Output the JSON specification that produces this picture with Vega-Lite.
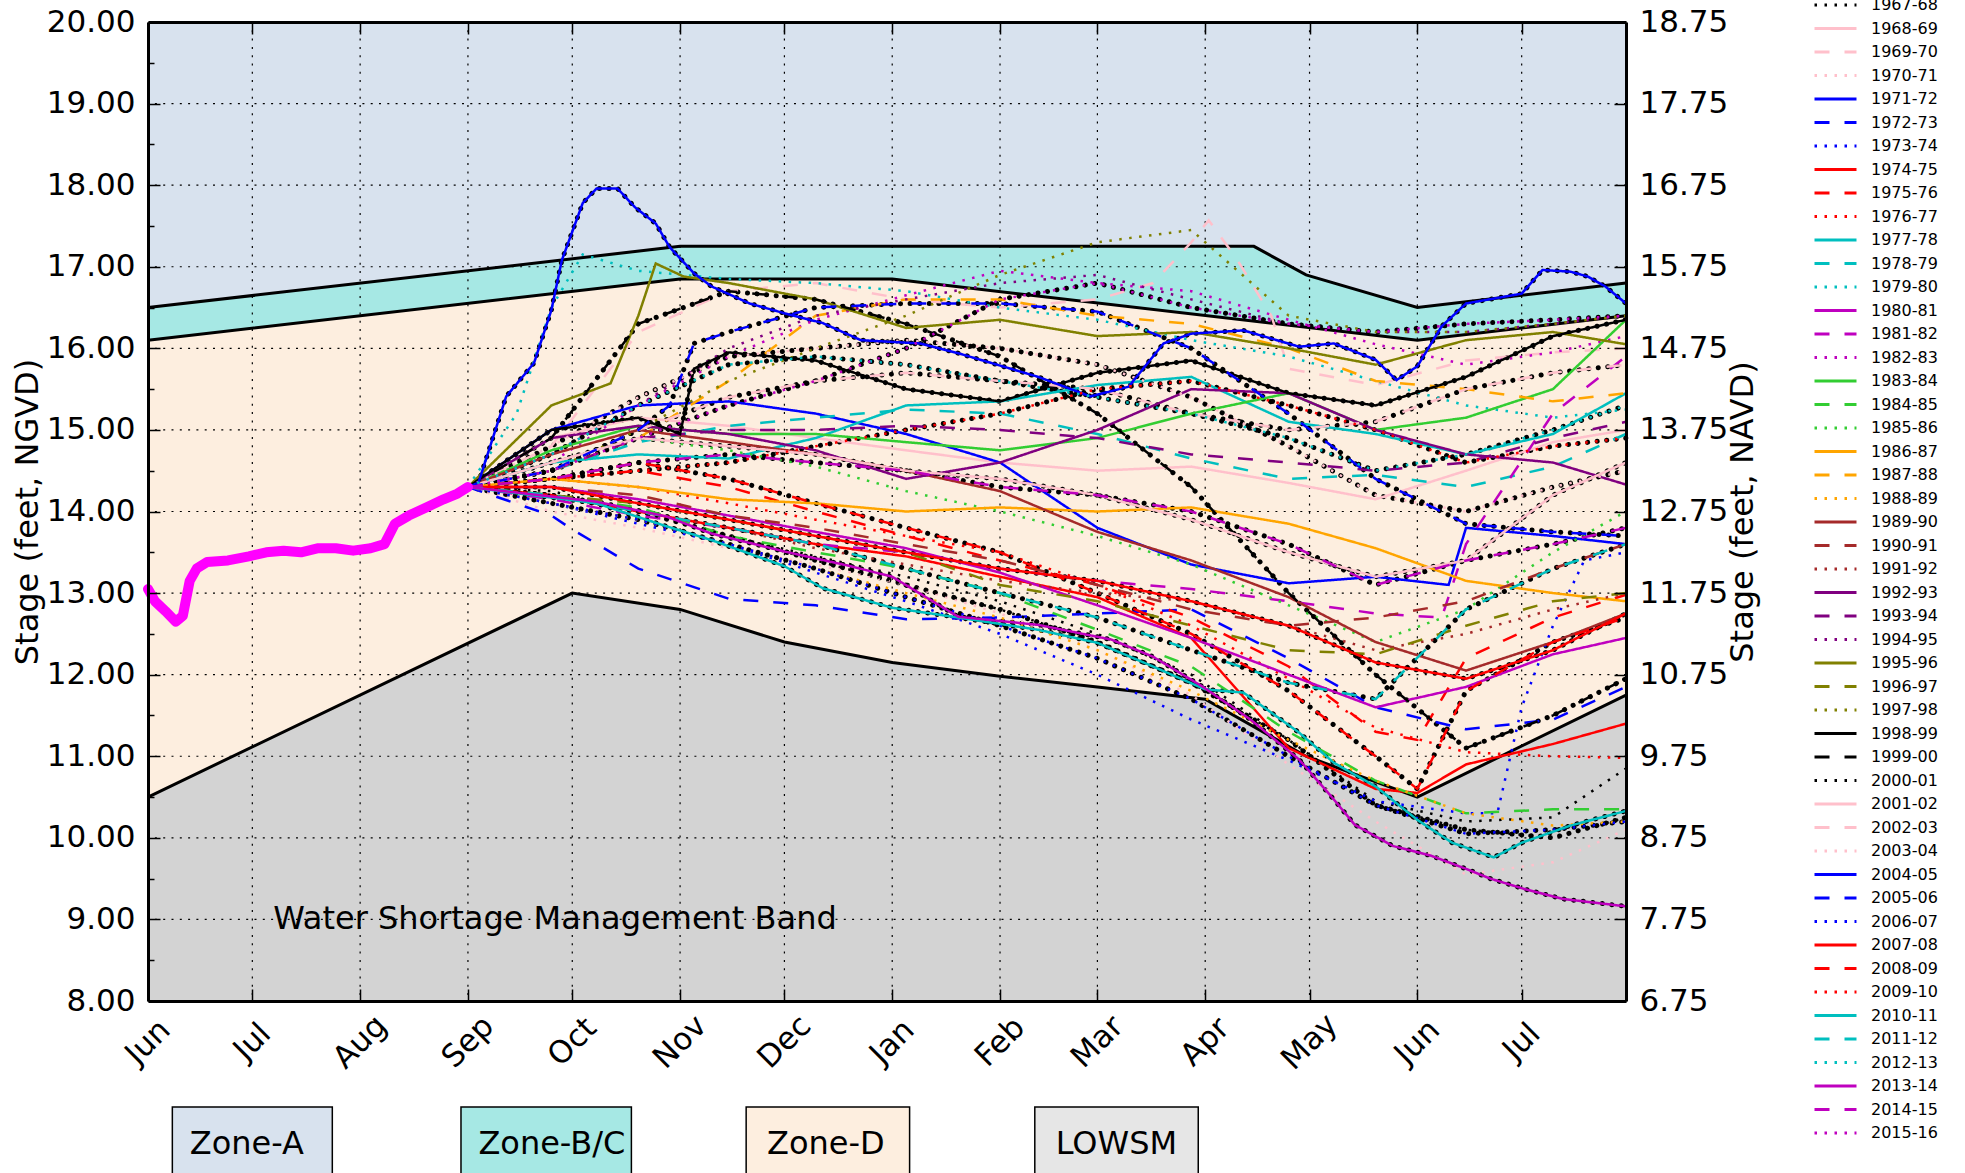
{
"$schema": "https://vega.github.io/schema/vega-lite/v6.json",
"width": 1478, "height": 979,
"autosize": {"type": "none"},
"padding": {"left": 148, "top": 22, "right": 339, "bottom": 172},
"background": "white",
"config": {
  "font": "DejaVu Sans",
  "view": {"fill": "#d8e2ee", "stroke": null},
  "axis": {"labelFont": "DejaVu Sans", "titleFont": "DejaVu Sans", "labelColor": "black", "titleColor": "black", "labelFontSize": 31, "titleFontSize": 32, "titleFontWeight": "normal", "domainColor": "black", "domainWidth": 3, "tickColor": "black", "tickWidth": 1.5, "grid": false}
},
"resolve": {"axis": {"x": "independent", "y": "independent"}},
"datasets": {
  "curves": [
    {"curve":"upper","date":"2016-06-01","stage":16.5},{"curve":"upper","date":"2016-11-01","stage":17.25},{"curve":"upper","date":"2017-04-15","stage":17.25},{"curve":"upper","date":"2017-04-30","stage":16.9},{"curve":"upper","date":"2017-06-01","stage":16.5},{"curve":"upper","date":"2017-07-31","stage":16.8},
    {"curve":"lower","date":"2016-06-01","stage":16.1},{"curve":"lower","date":"2016-11-01","stage":16.85},{"curve":"lower","date":"2017-01-01","stage":16.85},{"curve":"lower","date":"2017-06-01","stage":16.1},{"curve":"lower","date":"2017-07-31","stage":16.4},
    {"curve":"lowsm","date":"2016-06-01","stage":10.5},{"curve":"lowsm","date":"2016-10-01","stage":13.0},{"curve":"lowsm","date":"2016-11-01","stage":12.8},{"curve":"lowsm","date":"2016-12-01","stage":12.4},{"curve":"lowsm","date":"2017-01-01","stage":12.15},{"curve":"lowsm","date":"2017-02-01","stage":11.98},{"curve":"lowsm","date":"2017-03-01","stage":11.85},{"curve":"lowsm","date":"2017-04-01","stage":11.7},{"curve":"lowsm","date":"2017-04-30","stage":11.0},{"curve":"lowsm","date":"2017-06-01","stage":10.5},{"curve":"lowsm","date":"2017-07-31","stage":11.75}
  ],
  "current": [
    {"date":"2016-06-01","stage":13.05},{"date":"2016-06-03","stage":12.9},{"date":"2016-06-06","stage":12.78},{"date":"2016-06-09","stage":12.65},{"date":"2016-06-11","stage":12.72},{"date":"2016-06-13","stage":13.15},{"date":"2016-06-15","stage":13.3},{"date":"2016-06-18","stage":13.38},{"date":"2016-06-24","stage":13.4},{"date":"2016-06-30","stage":13.45},{"date":"2016-07-05","stage":13.5},{"date":"2016-07-10","stage":13.52},{"date":"2016-07-15","stage":13.5},{"date":"2016-07-20","stage":13.55},{"date":"2016-07-25","stage":13.55},{"date":"2016-07-30","stage":13.52},{"date":"2016-08-04","stage":13.55},{"date":"2016-08-08","stage":13.6},{"date":"2016-08-11","stage":13.85},{"date":"2016-08-15","stage":13.95},{"date":"2016-08-20","stage":14.05},{"date":"2016-08-25","stage":14.15},{"date":"2016-08-29","stage":14.22},{"date":"2016-09-01","stage":14.3}
  ],
  "boxes": [
    {"zone":"Zone-A","start":"2016-06-08","end":"2016-07-24","top":6.7,"bottom":5.8,"labelDate":"2016-06-13","labelStage":6.25},
    {"zone":"Zone-B/C","start":"2016-08-30","end":"2016-10-18","top":6.7,"bottom":5.8,"labelDate":"2016-09-04","labelStage":6.25},
    {"zone":"Zone-D","start":"2016-11-20","end":"2017-01-06","top":6.7,"bottom":5.8,"labelDate":"2016-11-26","labelStage":6.25},
    {"zone":"LOWSM","start":"2017-02-11","end":"2017-03-30","top":6.7,"bottom":5.8,"labelDate":"2017-02-17","labelStage":6.25}
  ],
  "series": [
    {"year":"1967-68","date":"2016-09-01","stage":14.3},{"year":"1967-68","date":"2016-09-25","stage":14.25},{"year":"1967-68","date":"2016-10-20","stage":14.0},{"year":"1967-68","date":"2016-11-15","stage":13.7},{"year":"1967-68","date":"2016-12-10","stage":13.45},{"year":"1967-68","date":"2017-01-05","stage":13.2},{"year":"1967-68","date":"2017-02-01","stage":12.9},{"year":"1967-68","date":"2017-03-01","stage":12.5},{"year":"1967-68","date":"2017-03-28","stage":12.0},{"year":"1967-68","date":"2017-04-25","stage":11.2},{"year":"1967-68","date":"2017-05-20","stage":10.45},{"year":"1967-68","date":"2017-06-15","stage":10.2},{"year":"1967-68","date":"2017-07-10","stage":10.25},{"year":"1967-68","date":"2017-07-31","stage":10.85},
    {"year":"1968-69","date":"2016-09-01","stage":14.3},{"year":"1968-69","date":"2016-09-25","stage":14.9},{"year":"1968-69","date":"2016-10-20","stage":15.15},{"year":"1968-69","date":"2016-11-15","stage":15.05},{"year":"1968-69","date":"2016-12-10","stage":14.9},{"year":"1968-69","date":"2017-01-05","stage":14.75},{"year":"1968-69","date":"2017-02-01","stage":14.6},{"year":"1968-69","date":"2017-03-01","stage":14.5},{"year":"1968-69","date":"2017-03-28","stage":14.55},{"year":"1968-69","date":"2017-04-25","stage":14.35},{"year":"1968-69","date":"2017-05-20","stage":14.15},{"year":"1968-69","date":"2017-06-15","stage":14.5},{"year":"1968-69","date":"2017-07-10","stage":14.85},{"year":"1968-69","date":"2017-07-31","stage":15.0},
    {"year":"1969-70","date":"2016-09-01","stage":14.3},{"year":"1969-70","date":"2016-09-25","stage":14.8},{"year":"1969-70","date":"2016-10-20","stage":16.2},{"year":"1969-70","date":"2016-11-15","stage":16.7},{"year":"1969-70","date":"2016-12-10","stage":16.8},{"year":"1969-70","date":"2017-01-05","stage":16.6},{"year":"1969-70","date":"2017-02-01","stage":16.5},{"year":"1969-70","date":"2017-03-01","stage":16.6},{"year":"1969-70","date":"2017-03-17","stage":16.8},{"year":"1969-70","date":"2017-03-28","stage":17.3},{"year":"1969-70","date":"2017-04-02","stage":17.57},{"year":"1969-70","date":"2017-04-10","stage":17.1},{"year":"1969-70","date":"2017-04-20","stage":16.4},{"year":"1969-70","date":"2017-04-25","stage":15.75},{"year":"1969-70","date":"2017-05-20","stage":15.55},{"year":"1969-70","date":"2017-06-15","stage":15.85},{"year":"1969-70","date":"2017-07-10","stage":15.95},{"year":"1969-70","date":"2017-07-31","stage":16.0},
    {"year":"1970-71","date":"2016-09-01","stage":14.3},{"year":"1970-71","date":"2016-09-25","stage":14.0},{"year":"1970-71","date":"2016-10-20","stage":13.8},{"year":"1970-71","date":"2016-11-15","stage":13.55},{"year":"1970-71","date":"2016-12-10","stage":13.35},{"year":"1970-71","date":"2017-01-05","stage":13.1},{"year":"1970-71","date":"2017-02-01","stage":12.75},{"year":"1970-71","date":"2017-03-01","stage":12.3},{"year":"1970-71","date":"2017-03-28","stage":11.75},{"year":"1970-71","date":"2017-04-25","stage":10.9},{"year":"1970-71","date":"2017-05-20","stage":10.2},{"year":"1970-71","date":"2017-06-15","stage":9.55},{"year":"1970-71","date":"2017-07-10","stage":9.7},{"year":"1970-71","date":"2017-07-31","stage":10.1},
    {"year":"1971-72","date":"2016-09-01","stage":14.3},{"year":"1971-72","date":"2016-09-25","stage":15.0},{"year":"1971-72","date":"2016-10-20","stage":15.3},{"year":"1971-72","date":"2016-11-15","stage":15.35},{"year":"1971-72","date":"2016-12-10","stage":15.2},{"year":"1971-72","date":"2017-01-05","stage":14.95},{"year":"1971-72","date":"2017-02-01","stage":14.6},{"year":"1971-72","date":"2017-03-01","stage":13.8},{"year":"1971-72","date":"2017-03-28","stage":13.35},{"year":"1971-72","date":"2017-04-25","stage":13.12},{"year":"1971-72","date":"2017-05-20","stage":13.2},{"year":"1971-72","date":"2017-06-10","stage":13.1},{"year":"1971-72","date":"2017-06-15","stage":13.8},{"year":"1971-72","date":"2017-07-10","stage":13.7},{"year":"1971-72","date":"2017-07-31","stage":13.6},
    {"year":"1972-73","date":"2016-09-01","stage":14.3},{"year":"1972-73","date":"2016-09-25","stage":13.95},{"year":"1972-73","date":"2016-10-01","stage":13.78},{"year":"1972-73","date":"2016-10-20","stage":13.3},{"year":"1972-73","date":"2016-11-15","stage":12.93},{"year":"1972-73","date":"2016-12-10","stage":12.85},{"year":"1972-73","date":"2017-01-05","stage":12.68},{"year":"1972-73","date":"2017-02-01","stage":12.7},{"year":"1972-73","date":"2017-03-01","stage":12.75},{"year":"1972-73","date":"2017-03-28","stage":12.8},{"year":"1972-73","date":"2017-04-25","stage":12.2},{"year":"1972-73","date":"2017-05-20","stage":11.6},{"year":"1972-73","date":"2017-06-15","stage":11.33},{"year":"1972-73","date":"2017-07-10","stage":11.45},{"year":"1972-73","date":"2017-07-31","stage":11.85},
    {"year":"1973-74","date":"2016-09-01","stage":14.3},{"year":"1973-74","date":"2016-09-25","stage":14.1},{"year":"1973-74","date":"2016-10-20","stage":13.85},{"year":"1973-74","date":"2016-11-15","stage":13.6},{"year":"1973-74","date":"2016-12-10","stage":13.25},{"year":"1973-74","date":"2017-01-05","stage":12.9},{"year":"1973-74","date":"2017-02-01","stage":12.5},{"year":"1973-74","date":"2017-03-01","stage":12.0},{"year":"1973-74","date":"2017-03-28","stage":11.45},{"year":"1973-74","date":"2017-04-25","stage":10.95},{"year":"1973-74","date":"2017-05-20","stage":10.45},{"year":"1973-74","date":"2017-06-15","stage":10.3},{"year":"1973-74","date":"2017-06-24","stage":10.3},{"year":"1973-74","date":"2017-07-01","stage":11.6},{"year":"1973-74","date":"2017-07-10","stage":12.6},{"year":"1973-74","date":"2017-07-19","stage":13.4},{"year":"1973-74","date":"2017-07-31","stage":13.5},
    {"year":"1974-75","date":"2016-09-01","stage":14.3},{"year":"1974-75","date":"2016-09-25","stage":14.2},{"year":"1974-75","date":"2016-10-20","stage":14.0},{"year":"1974-75","date":"2016-11-15","stage":13.8},{"year":"1974-75","date":"2016-12-10","stage":13.6},{"year":"1974-75","date":"2017-01-05","stage":13.45},{"year":"1974-75","date":"2017-02-01","stage":13.2},{"year":"1974-75","date":"2017-03-01","stage":12.95},{"year":"1974-75","date":"2017-03-28","stage":12.45},{"year":"1974-75","date":"2017-04-25","stage":11.1},{"year":"1974-75","date":"2017-05-20","stage":10.6},{"year":"1974-75","date":"2017-06-01","stage":10.55},{"year":"1974-75","date":"2017-06-15","stage":10.9},{"year":"1974-75","date":"2017-07-10","stage":11.15},{"year":"1974-75","date":"2017-07-31","stage":11.4},
    {"year":"1975-76","date":"2016-09-01","stage":14.3},{"year":"1975-76","date":"2016-09-25","stage":14.4},{"year":"1975-76","date":"2016-10-20","stage":14.5},{"year":"1975-76","date":"2016-11-15","stage":14.3},{"year":"1975-76","date":"2016-12-10","stage":14.0},{"year":"1975-76","date":"2017-01-05","stage":13.7},{"year":"1975-76","date":"2017-02-01","stage":13.4},{"year":"1975-76","date":"2017-03-01","stage":13.1},{"year":"1975-76","date":"2017-03-28","stage":12.7},{"year":"1975-76","date":"2017-04-25","stage":12.1},{"year":"1975-76","date":"2017-05-20","stage":11.3},{"year":"1975-76","date":"2017-06-01","stage":11.2},{"year":"1975-76","date":"2017-06-15","stage":12.2},{"year":"1975-76","date":"2017-07-10","stage":12.7},{"year":"1975-76","date":"2017-07-31","stage":12.98},
    {"year":"1976-77","date":"2016-09-01","stage":14.3},{"year":"1976-77","date":"2016-09-25","stage":14.4},{"year":"1976-77","date":"2016-10-20","stage":14.3},{"year":"1976-77","date":"2016-11-15","stage":14.1},{"year":"1976-77","date":"2016-12-10","stage":13.9},{"year":"1976-77","date":"2017-01-05","stage":13.7},{"year":"1976-77","date":"2017-02-01","stage":13.5},{"year":"1976-77","date":"2017-03-01","stage":13.1},{"year":"1976-77","date":"2017-03-28","stage":12.6},{"year":"1976-77","date":"2017-04-25","stage":11.95},{"year":"1976-77","date":"2017-05-20","stage":11.35},{"year":"1976-77","date":"2017-06-15","stage":11.05},{"year":"1976-77","date":"2017-07-10","stage":11.0},{"year":"1976-77","date":"2017-07-31","stage":10.98},
    {"year":"1977-78","date":"2016-09-01","stage":14.3},{"year":"1977-78","date":"2016-09-25","stage":14.6},{"year":"1977-78","date":"2016-10-20","stage":14.7},{"year":"1977-78","date":"2016-11-15","stage":14.65},{"year":"1977-78","date":"2016-12-10","stage":14.9},{"year":"1977-78","date":"2017-01-05","stage":15.3},{"year":"1977-78","date":"2017-02-01","stage":15.35},{"year":"1977-78","date":"2017-03-01","stage":15.55},{"year":"1977-78","date":"2017-03-28","stage":15.65},{"year":"1977-78","date":"2017-04-25","stage":15.1},{"year":"1977-78","date":"2017-05-20","stage":14.95},{"year":"1977-78","date":"2017-06-15","stage":14.7},{"year":"1977-78","date":"2017-07-10","stage":14.95},{"year":"1977-78","date":"2017-07-31","stage":15.45},
    {"year":"1978-79","date":"2016-09-01","stage":14.3},{"year":"1978-79","date":"2016-09-25","stage":14.5},{"year":"1978-79","date":"2016-10-20","stage":14.85},{"year":"1978-79","date":"2016-11-15","stage":15.05},{"year":"1978-79","date":"2016-12-10","stage":15.15},{"year":"1978-79","date":"2017-01-05","stage":15.25},{"year":"1978-79","date":"2017-02-01","stage":15.2},{"year":"1978-79","date":"2017-03-01","stage":14.95},{"year":"1978-79","date":"2017-03-28","stage":14.65},{"year":"1978-79","date":"2017-04-25","stage":14.4},{"year":"1978-79","date":"2017-05-20","stage":14.45},{"year":"1978-79","date":"2017-06-15","stage":14.3},{"year":"1978-79","date":"2017-07-10","stage":14.55},{"year":"1978-79","date":"2017-07-31","stage":14.95},
    {"year":"1979-80","date":"2016-09-01","stage":14.3},{"year":"1979-80","date":"2016-09-15","stage":15.2},{"year":"1979-80","date":"2016-09-25","stage":16.5},{"year":"1979-80","date":"2016-10-04","stage":17.15},{"year":"1979-80","date":"2016-10-20","stage":16.95},{"year":"1979-80","date":"2016-11-15","stage":16.85},{"year":"1979-80","date":"2016-12-10","stage":16.8},{"year":"1979-80","date":"2017-01-05","stage":16.7},{"year":"1979-80","date":"2017-02-01","stage":16.5},{"year":"1979-80","date":"2017-03-01","stage":16.35},{"year":"1979-80","date":"2017-03-28","stage":16.1},{"year":"1979-80","date":"2017-04-25","stage":15.9},{"year":"1979-80","date":"2017-05-20","stage":15.6},{"year":"1979-80","date":"2017-06-15","stage":15.3},{"year":"1979-80","date":"2017-07-10","stage":15.15},{"year":"1979-80","date":"2017-07-31","stage":15.25},
    {"year":"1980-81","date":"2016-09-01","stage":14.3},{"year":"1980-81","date":"2016-09-25","stage":14.3},{"year":"1980-81","date":"2016-10-20","stage":14.15},{"year":"1980-81","date":"2016-11-15","stage":13.95},{"year":"1980-81","date":"2016-12-10","stage":13.75},{"year":"1980-81","date":"2017-01-05","stage":13.55},{"year":"1980-81","date":"2017-02-01","stage":13.25},{"year":"1980-81","date":"2017-03-01","stage":12.85},{"year":"1980-81","date":"2017-03-28","stage":12.45},{"year":"1980-81","date":"2017-04-25","stage":12.0},{"year":"1980-81","date":"2017-05-20","stage":11.6},{"year":"1980-81","date":"2017-06-15","stage":11.85},{"year":"1980-81","date":"2017-07-10","stage":12.25},{"year":"1980-81","date":"2017-07-31","stage":12.45},
    {"year":"1981-82","date":"2016-09-01","stage":14.3},{"year":"1981-82","date":"2016-09-25","stage":14.15},{"year":"1981-82","date":"2016-10-20","stage":13.95},{"year":"1981-82","date":"2016-11-15","stage":13.8},{"year":"1981-82","date":"2016-12-10","stage":13.6},{"year":"1981-82","date":"2017-01-05","stage":13.5},{"year":"1981-82","date":"2017-02-01","stage":13.3},{"year":"1981-82","date":"2017-03-01","stage":13.15},{"year":"1981-82","date":"2017-03-28","stage":13.05},{"year":"1981-82","date":"2017-04-25","stage":12.9},{"year":"1981-82","date":"2017-05-20","stage":12.75},{"year":"1981-82","date":"2017-06-08","stage":12.7},{"year":"1981-82","date":"2017-06-15","stage":13.6},{"year":"1981-82","date":"2017-07-10","stage":15.2},{"year":"1981-82","date":"2017-07-31","stage":15.9},
    {"year":"1982-83","date":"2016-09-01","stage":14.3},{"year":"1982-83","date":"2016-09-25","stage":14.6},{"year":"1982-83","date":"2016-10-20","stage":15.3},{"year":"1982-83","date":"2016-11-15","stage":15.9},{"year":"1982-83","date":"2016-12-10","stage":16.35},{"year":"1982-83","date":"2017-01-05","stage":16.65},{"year":"1982-83","date":"2017-02-01","stage":16.95},{"year":"1982-83","date":"2017-03-01","stage":16.8},{"year":"1982-83","date":"2017-03-28","stage":16.7},{"year":"1982-83","date":"2017-04-25","stage":16.35},{"year":"1982-83","date":"2017-05-20","stage":16.05},{"year":"1982-83","date":"2017-06-15","stage":15.8},{"year":"1982-83","date":"2017-07-10","stage":15.95},{"year":"1982-83","date":"2017-07-31","stage":16.15},
    {"year":"1983-84","date":"2016-09-01","stage":14.3},{"year":"1983-84","date":"2016-09-25","stage":14.75},{"year":"1983-84","date":"2016-10-20","stage":15.05},{"year":"1983-84","date":"2016-11-15","stage":14.95},{"year":"1983-84","date":"2016-12-10","stage":14.95},{"year":"1983-84","date":"2017-01-05","stage":14.85},{"year":"1983-84","date":"2017-02-01","stage":14.75},{"year":"1983-84","date":"2017-03-01","stage":14.9},{"year":"1983-84","date":"2017-03-28","stage":15.2},{"year":"1983-84","date":"2017-04-25","stage":15.45},{"year":"1983-84","date":"2017-05-20","stage":15.0},{"year":"1983-84","date":"2017-06-15","stage":15.15},{"year":"1983-84","date":"2017-07-10","stage":15.5},{"year":"1983-84","date":"2017-07-31","stage":16.35},
    {"year":"1984-85","date":"2016-09-01","stage":14.3},{"year":"1984-85","date":"2016-09-25","stage":14.2},{"year":"1984-85","date":"2016-10-20","stage":14.05},{"year":"1984-85","date":"2016-11-15","stage":13.7},{"year":"1984-85","date":"2016-12-10","stage":13.5},{"year":"1984-85","date":"2017-01-05","stage":13.3},{"year":"1984-85","date":"2017-02-01","stage":13.0},{"year":"1984-85","date":"2017-03-01","stage":12.55},{"year":"1984-85","date":"2017-03-28","stage":12.1},{"year":"1984-85","date":"2017-04-25","stage":11.3},{"year":"1984-85","date":"2017-05-20","stage":10.7},{"year":"1984-85","date":"2017-06-15","stage":10.3},{"year":"1984-85","date":"2017-07-10","stage":10.35},{"year":"1984-85","date":"2017-07-31","stage":10.35},
    {"year":"1985-86","date":"2016-09-01","stage":14.3},{"year":"1985-86","date":"2016-09-25","stage":14.6},{"year":"1985-86","date":"2016-10-20","stage":14.9},{"year":"1985-86","date":"2016-11-15","stage":14.75},{"year":"1985-86","date":"2016-12-10","stage":14.55},{"year":"1985-86","date":"2017-01-05","stage":14.25},{"year":"1985-86","date":"2017-02-01","stage":14.0},{"year":"1985-86","date":"2017-03-01","stage":13.7},{"year":"1985-86","date":"2017-03-28","stage":13.35},{"year":"1985-86","date":"2017-04-25","stage":12.85},{"year":"1985-86","date":"2017-05-20","stage":12.4},{"year":"1985-86","date":"2017-06-15","stage":12.8},{"year":"1985-86","date":"2017-07-10","stage":13.5},{"year":"1985-86","date":"2017-07-31","stage":14.0},
    {"year":"1986-87","date":"2016-09-01","stage":14.3},{"year":"1986-87","date":"2016-09-25","stage":14.4},{"year":"1986-87","date":"2016-10-20","stage":14.3},{"year":"1986-87","date":"2016-11-15","stage":14.15},{"year":"1986-87","date":"2016-12-10","stage":14.1},{"year":"1986-87","date":"2017-01-05","stage":14.0},{"year":"1986-87","date":"2017-02-01","stage":14.05},{"year":"1986-87","date":"2017-03-01","stage":14.0},{"year":"1986-87","date":"2017-03-28","stage":14.05},{"year":"1986-87","date":"2017-04-25","stage":13.85},{"year":"1986-87","date":"2017-05-20","stage":13.55},{"year":"1986-87","date":"2017-06-15","stage":13.15},{"year":"1986-87","date":"2017-07-10","stage":13.0},{"year":"1986-87","date":"2017-07-31","stage":12.9},
    {"year":"1987-88","date":"2016-09-01","stage":14.3},{"year":"1987-88","date":"2016-09-25","stage":14.5},{"year":"1987-88","date":"2016-10-20","stage":14.9},{"year":"1987-88","date":"2016-11-15","stage":15.6},{"year":"1987-88","date":"2016-12-10","stage":16.4},{"year":"1987-88","date":"2017-01-05","stage":16.6},{"year":"1987-88","date":"2017-02-01","stage":16.6},{"year":"1987-88","date":"2017-03-01","stage":16.4},{"year":"1987-88","date":"2017-03-28","stage":16.3},{"year":"1987-88","date":"2017-04-25","stage":16.0},{"year":"1987-88","date":"2017-05-20","stage":15.6},{"year":"1987-88","date":"2017-06-15","stage":15.5},{"year":"1987-88","date":"2017-07-10","stage":15.35},{"year":"1987-88","date":"2017-07-31","stage":15.45},
    {"year":"1988-89","date":"2016-09-01","stage":14.3},{"year":"1988-89","date":"2016-09-25","stage":14.1},{"year":"1988-89","date":"2016-10-20","stage":13.9},{"year":"1988-89","date":"2016-11-15","stage":13.6},{"year":"1988-89","date":"2016-12-10","stage":13.3},{"year":"1988-89","date":"2017-01-05","stage":13.0},{"year":"1988-89","date":"2017-02-01","stage":12.7},{"year":"1988-89","date":"2017-03-01","stage":12.3},{"year":"1988-89","date":"2017-03-28","stage":11.8},{"year":"1988-89","date":"2017-04-25","stage":11.2},{"year":"1988-89","date":"2017-05-20","stage":10.7},{"year":"1988-89","date":"2017-06-15","stage":10.3},{"year":"1988-89","date":"2017-07-10","stage":10.15},{"year":"1988-89","date":"2017-07-31","stage":10.2},
    {"year":"1989-90","date":"2016-09-01","stage":14.3},{"year":"1989-90","date":"2016-09-25","stage":14.7},{"year":"1989-90","date":"2016-10-20","stage":15.0},{"year":"1989-90","date":"2016-11-15","stage":14.85},{"year":"1989-90","date":"2016-12-10","stage":14.7},{"year":"1989-90","date":"2017-01-05","stage":14.5},{"year":"1989-90","date":"2017-02-01","stage":14.25},{"year":"1989-90","date":"2017-03-01","stage":13.75},{"year":"1989-90","date":"2017-03-28","stage":13.4},{"year":"1989-90","date":"2017-04-25","stage":12.95},{"year":"1989-90","date":"2017-05-20","stage":12.4},{"year":"1989-90","date":"2017-06-15","stage":12.05},{"year":"1989-90","date":"2017-07-10","stage":12.4},{"year":"1989-90","date":"2017-07-31","stage":12.75},
    {"year":"1990-91","date":"2016-09-01","stage":14.3},{"year":"1990-91","date":"2016-09-25","stage":14.3},{"year":"1990-91","date":"2016-10-20","stage":14.2},{"year":"1990-91","date":"2016-11-15","stage":13.95},{"year":"1990-91","date":"2016-12-10","stage":13.8},{"year":"1990-91","date":"2017-01-05","stage":13.6},{"year":"1990-91","date":"2017-02-01","stage":13.4},{"year":"1990-91","date":"2017-03-01","stage":13.1},{"year":"1990-91","date":"2017-03-28","stage":12.8},{"year":"1990-91","date":"2017-04-25","stage":12.6},{"year":"1990-91","date":"2017-05-20","stage":12.7},{"year":"1990-91","date":"2017-06-15","stage":12.9},{"year":"1990-91","date":"2017-07-10","stage":13.3},{"year":"1990-91","date":"2017-07-31","stage":13.6},
    {"year":"1991-92","date":"2016-09-01","stage":14.3},{"year":"1991-92","date":"2016-09-25","stage":14.2},{"year":"1991-92","date":"2016-10-20","stage":14.0},{"year":"1991-92","date":"2016-11-15","stage":13.8},{"year":"1991-92","date":"2016-12-10","stage":13.55},{"year":"1991-92","date":"2017-01-05","stage":13.35},{"year":"1991-92","date":"2017-02-01","stage":13.15},{"year":"1991-92","date":"2017-03-01","stage":13.0},{"year":"1991-92","date":"2017-03-28","stage":12.9},{"year":"1991-92","date":"2017-04-25","stage":12.6},{"year":"1991-92","date":"2017-05-20","stage":12.3},{"year":"1991-92","date":"2017-06-15","stage":12.5},{"year":"1991-92","date":"2017-07-10","stage":12.8},{"year":"1991-92","date":"2017-07-31","stage":13.0},
    {"year":"1992-93","date":"2016-09-01","stage":14.3},{"year":"1992-93","date":"2016-09-25","stage":14.9},{"year":"1992-93","date":"2016-10-20","stage":15.05},{"year":"1992-93","date":"2016-11-15","stage":14.95},{"year":"1992-93","date":"2016-12-10","stage":14.75},{"year":"1992-93","date":"2017-01-05","stage":14.4},{"year":"1992-93","date":"2017-02-01","stage":14.6},{"year":"1992-93","date":"2017-03-01","stage":15.0},{"year":"1992-93","date":"2017-03-28","stage":15.5},{"year":"1992-93","date":"2017-04-25","stage":15.45},{"year":"1992-93","date":"2017-05-20","stage":15.0},{"year":"1992-93","date":"2017-06-15","stage":14.7},{"year":"1992-93","date":"2017-07-10","stage":14.6},{"year":"1992-93","date":"2017-07-31","stage":14.33},
    {"year":"1993-94","date":"2016-09-01","stage":14.3},{"year":"1993-94","date":"2016-09-25","stage":14.5},{"year":"1993-94","date":"2016-10-20","stage":14.9},{"year":"1993-94","date":"2016-11-15","stage":15.0},{"year":"1993-94","date":"2016-12-10","stage":15.0},{"year":"1993-94","date":"2017-01-05","stage":15.05},{"year":"1993-94","date":"2017-02-01","stage":15.0},{"year":"1993-94","date":"2017-03-01","stage":14.9},{"year":"1993-94","date":"2017-03-28","stage":14.7},{"year":"1993-94","date":"2017-04-25","stage":14.6},{"year":"1993-94","date":"2017-05-20","stage":14.5},{"year":"1993-94","date":"2017-06-15","stage":14.6},{"year":"1993-94","date":"2017-07-10","stage":14.9},{"year":"1993-94","date":"2017-07-31","stage":15.1},
    {"year":"1994-95","date":"2016-09-01","stage":14.3},{"year":"1994-95","date":"2016-09-25","stage":14.7},{"year":"1994-95","date":"2016-10-20","stage":15.3},{"year":"1994-95","date":"2016-11-15","stage":16.0},{"year":"1994-95","date":"2016-12-10","stage":16.4},{"year":"1994-95","date":"2017-01-05","stage":16.6},{"year":"1994-95","date":"2017-02-01","stage":16.8},{"year":"1994-95","date":"2017-03-01","stage":16.9},{"year":"1994-95","date":"2017-03-28","stage":16.6},{"year":"1994-95","date":"2017-04-25","stage":16.3},{"year":"1994-95","date":"2017-05-20","stage":16.2},{"year":"1994-95","date":"2017-06-15","stage":16.2},{"year":"1994-95","date":"2017-07-10","stage":16.3},{"year":"1994-95","date":"2017-07-31","stage":16.4},
    {"year":"1995-96","date":"2016-09-01","stage":14.3},{"year":"1995-96","date":"2016-09-25","stage":15.3},{"year":"1995-96","date":"2016-10-12","stage":15.57},{"year":"1995-96","date":"2016-10-20","stage":16.4},{"year":"1995-96","date":"2016-10-25","stage":17.04},{"year":"1995-96","date":"2016-11-02","stage":16.88},{"year":"1995-96","date":"2016-11-15","stage":16.8},{"year":"1995-96","date":"2016-12-10","stage":16.6},{"year":"1995-96","date":"2017-01-05","stage":16.25},{"year":"1995-96","date":"2017-02-01","stage":16.35},{"year":"1995-96","date":"2017-03-01","stage":16.15},{"year":"1995-96","date":"2017-03-28","stage":16.2},{"year":"1995-96","date":"2017-04-25","stage":16.0},{"year":"1995-96","date":"2017-05-20","stage":15.8},{"year":"1995-96","date":"2017-06-15","stage":16.1},{"year":"1995-96","date":"2017-07-10","stage":16.2},{"year":"1995-96","date":"2017-07-31","stage":16.05},
    {"year":"1996-97","date":"2016-09-01","stage":14.3},{"year":"1996-97","date":"2016-09-25","stage":14.2},{"year":"1996-97","date":"2016-10-20","stage":14.1},{"year":"1996-97","date":"2016-11-15","stage":13.9},{"year":"1996-97","date":"2016-12-10","stage":13.7},{"year":"1996-97","date":"2017-01-05","stage":13.5},{"year":"1996-97","date":"2017-02-01","stage":13.1},{"year":"1996-97","date":"2017-03-01","stage":12.9},{"year":"1996-97","date":"2017-03-28","stage":12.6},{"year":"1996-97","date":"2017-04-25","stage":12.3},{"year":"1996-97","date":"2017-05-20","stage":12.25},{"year":"1996-97","date":"2017-06-15","stage":12.6},{"year":"1996-97","date":"2017-07-10","stage":12.9},{"year":"1996-97","date":"2017-07-31","stage":13.0},
    {"year":"1997-98","date":"2016-09-01","stage":14.3},{"year":"1997-98","date":"2016-09-25","stage":14.5},{"year":"1997-98","date":"2016-10-20","stage":15.0},{"year":"1997-98","date":"2016-11-15","stage":15.6},{"year":"1997-98","date":"2016-12-10","stage":16.0},{"year":"1997-98","date":"2017-01-05","stage":16.4},{"year":"1997-98","date":"2017-02-01","stage":16.9},{"year":"1997-98","date":"2017-03-01","stage":17.3},{"year":"1997-98","date":"2017-03-28","stage":17.45},{"year":"1997-98","date":"2017-04-25","stage":16.4},{"year":"1997-98","date":"2017-05-20","stage":16.2},{"year":"1997-98","date":"2017-06-15","stage":16.2},{"year":"1997-98","date":"2017-07-10","stage":16.3},{"year":"1997-98","date":"2017-07-31","stage":16.4},
    {"year":"1998-99","date":"2016-09-01","stage":14.3},{"year":"1998-99","date":"2016-09-25","stage":15.0},{"year":"1998-99","date":"2016-10-20","stage":15.15},{"year":"1998-99","date":"2016-11-01","stage":14.95},{"year":"1998-99","date":"2016-11-05","stage":15.75},{"year":"1998-99","date":"2016-11-15","stage":15.95},{"year":"1998-99","date":"2016-12-10","stage":15.85},{"year":"1998-99","date":"2017-01-05","stage":15.5},{"year":"1998-99","date":"2017-02-01","stage":15.35},{"year":"1998-99","date":"2017-03-01","stage":15.7},{"year":"1998-99","date":"2017-03-28","stage":15.85},{"year":"1998-99","date":"2017-04-25","stage":15.45},{"year":"1998-99","date":"2017-05-20","stage":15.3},{"year":"1998-99","date":"2017-06-15","stage":15.65},{"year":"1998-99","date":"2017-07-10","stage":16.15},{"year":"1998-99","date":"2017-07-31","stage":16.35},
    {"year":"1999-00","date":"2016-09-01","stage":14.3},{"year":"1999-00","date":"2016-09-25","stage":14.9},{"year":"1999-00","date":"2016-10-20","stage":16.3},{"year":"1999-00","date":"2016-11-15","stage":16.7},{"year":"1999-00","date":"2016-12-10","stage":16.6},{"year":"1999-00","date":"2017-01-05","stage":16.3},{"year":"1999-00","date":"2017-02-01","stage":15.9},{"year":"1999-00","date":"2017-03-01","stage":15.2},{"year":"1999-00","date":"2017-03-28","stage":14.3},{"year":"1999-00","date":"2017-04-25","stage":13.0},{"year":"1999-00","date":"2017-05-20","stage":12.0},{"year":"1999-00","date":"2017-06-15","stage":11.1},{"year":"1999-00","date":"2017-07-10","stage":11.5},{"year":"1999-00","date":"2017-07-31","stage":11.95},
    {"year":"2000-01","date":"2016-09-01","stage":14.3},{"year":"2000-01","date":"2016-09-25","stage":14.2},{"year":"2000-01","date":"2016-10-20","stage":14.0},{"year":"2000-01","date":"2016-11-15","stage":13.7},{"year":"2000-01","date":"2016-12-10","stage":13.4},{"year":"2000-01","date":"2017-01-05","stage":13.1},{"year":"2000-01","date":"2017-02-01","stage":12.8},{"year":"2000-01","date":"2017-03-01","stage":12.4},{"year":"2000-01","date":"2017-03-28","stage":11.9},{"year":"2000-01","date":"2017-04-25","stage":11.2},{"year":"2000-01","date":"2017-05-20","stage":10.4},{"year":"2000-01","date":"2017-06-15","stage":10.1},{"year":"2000-01","date":"2017-07-10","stage":10.0},{"year":"2000-01","date":"2017-07-31","stage":10.25},
    {"year":"2001-02","date":"2016-09-01","stage":14.3},{"year":"2001-02","date":"2016-09-25","stage":14.6},{"year":"2001-02","date":"2016-10-20","stage":14.9},{"year":"2001-02","date":"2016-11-15","stage":14.8},{"year":"2001-02","date":"2016-12-10","stage":14.7},{"year":"2001-02","date":"2017-01-05","stage":14.5},{"year":"2001-02","date":"2017-02-01","stage":14.4},{"year":"2001-02","date":"2017-03-01","stage":14.2},{"year":"2001-02","date":"2017-03-28","stage":13.9},{"year":"2001-02","date":"2017-04-25","stage":13.5},{"year":"2001-02","date":"2017-05-20","stage":13.2},{"year":"2001-02","date":"2017-06-15","stage":13.4},{"year":"2001-02","date":"2017-07-10","stage":14.2},{"year":"2001-02","date":"2017-07-31","stage":14.6},
    {"year":"2002-03","date":"2016-09-01","stage":14.3},{"year":"2002-03","date":"2016-09-25","stage":14.5},{"year":"2002-03","date":"2016-10-20","stage":15.0},{"year":"2002-03","date":"2016-11-15","stage":15.4},{"year":"2002-03","date":"2016-12-10","stage":15.6},{"year":"2002-03","date":"2017-01-05","stage":15.7},{"year":"2002-03","date":"2017-02-01","stage":15.6},{"year":"2002-03","date":"2017-03-01","stage":15.5},{"year":"2002-03","date":"2017-03-28","stage":15.2},{"year":"2002-03","date":"2017-04-25","stage":15.0},{"year":"2002-03","date":"2017-05-20","stage":15.1},{"year":"2002-03","date":"2017-06-15","stage":15.5},{"year":"2002-03","date":"2017-07-10","stage":15.7},{"year":"2002-03","date":"2017-07-31","stage":15.8},
    {"year":"2003-04","date":"2016-09-01","stage":14.3},{"year":"2003-04","date":"2016-09-25","stage":14.8},{"year":"2003-04","date":"2016-10-20","stage":15.4},{"year":"2003-04","date":"2016-11-15","stage":15.9},{"year":"2003-04","date":"2016-12-10","stage":16.0},{"year":"2003-04","date":"2017-01-05","stage":16.1},{"year":"2003-04","date":"2017-02-01","stage":16.0},{"year":"2003-04","date":"2017-03-01","stage":15.8},{"year":"2003-04","date":"2017-03-28","stage":15.4},{"year":"2003-04","date":"2017-04-25","stage":14.8},{"year":"2003-04","date":"2017-05-20","stage":14.2},{"year":"2003-04","date":"2017-06-15","stage":14.0},{"year":"2003-04","date":"2017-07-10","stage":14.3},{"year":"2003-04","date":"2017-07-31","stage":14.5},
    {"year":"2004-05","date":"2016-09-01","stage":14.3},{"year":"2004-05","date":"2016-09-04","stage":14.35},{"year":"2004-05","date":"2016-09-12","stage":15.41},{"year":"2004-05","date":"2016-09-20","stage":15.82},{"year":"2004-05","date":"2016-09-25","stage":16.47},{"year":"2004-05","date":"2016-09-28","stage":17.08},{"year":"2004-05","date":"2016-10-04","stage":17.78},{"year":"2004-05","date":"2016-10-08","stage":17.96},{"year":"2004-05","date":"2016-10-14","stage":17.96},{"year":"2004-05","date":"2016-10-19","stage":17.73},{"year":"2004-05","date":"2016-10-25","stage":17.53},{"year":"2004-05","date":"2016-10-29","stage":17.24},{"year":"2004-05","date":"2016-11-05","stage":16.92},{"year":"2004-05","date":"2016-11-10","stage":16.76},{"year":"2004-05","date":"2016-11-21","stage":16.55},{"year":"2004-05","date":"2016-12-01","stage":16.43},{"year":"2004-05","date":"2016-12-12","stage":16.31},{"year":"2004-05","date":"2016-12-23","stage":16.1},{"year":"2004-05","date":"2017-01-09","stage":16.06},{"year":"2004-05","date":"2017-01-20","stage":15.94},{"year":"2004-05","date":"2017-02-12","stage":15.65},{"year":"2004-05","date":"2017-02-27","stage":15.41},{"year":"2004-05","date":"2017-03-10","stage":15.53},{"year":"2004-05","date":"2017-03-20","stage":16.06},{"year":"2004-05","date":"2017-03-28","stage":16.18},{"year":"2004-05","date":"2017-04-12","stage":16.22},{"year":"2004-05","date":"2017-04-28","stage":16.02},{"year":"2004-05","date":"2017-05-08","stage":16.06},{"year":"2004-05","date":"2017-05-20","stage":15.86},{"year":"2004-05","date":"2017-05-26","stage":15.61},{"year":"2004-05","date":"2017-06-01","stage":15.78},{"year":"2004-05","date":"2017-06-08","stage":16.27},{"year":"2004-05","date":"2017-06-15","stage":16.55},{"year":"2004-05","date":"2017-07-01","stage":16.67},{"year":"2004-05","date":"2017-07-07","stage":16.96},{"year":"2004-05","date":"2017-07-15","stage":16.94},{"year":"2004-05","date":"2017-07-20","stage":16.88},{"year":"2004-05","date":"2017-07-25","stage":16.76},{"year":"2004-05","date":"2017-07-31","stage":16.55},
    {"year":"2005-06","date":"2016-09-01","stage":14.3},{"year":"2005-06","date":"2016-09-25","stage":14.5},{"year":"2005-06","date":"2016-10-20","stage":15.0},{"year":"2005-06","date":"2016-10-29","stage":15.3},{"year":"2005-06","date":"2016-11-05","stage":16.06},{"year":"2005-06","date":"2016-11-15","stage":16.2},{"year":"2005-06","date":"2016-12-10","stage":16.5},{"year":"2005-06","date":"2017-01-05","stage":16.55},{"year":"2005-06","date":"2017-02-01","stage":16.55},{"year":"2005-06","date":"2017-03-01","stage":16.45},{"year":"2005-06","date":"2017-03-28","stage":16.0},{"year":"2005-06","date":"2017-04-25","stage":15.2},{"year":"2005-06","date":"2017-05-20","stage":14.4},{"year":"2005-06","date":"2017-06-15","stage":13.85},{"year":"2005-06","date":"2017-07-10","stage":13.75},{"year":"2005-06","date":"2017-07-31","stage":13.7},
    {"year":"2006-07","date":"2016-09-01","stage":14.3},{"year":"2006-07","date":"2016-09-25","stage":14.1},{"year":"2006-07","date":"2016-10-20","stage":13.9},{"year":"2006-07","date":"2016-11-15","stage":13.6},{"year":"2006-07","date":"2016-12-10","stage":13.3},{"year":"2006-07","date":"2017-01-05","stage":12.95},{"year":"2006-07","date":"2017-02-01","stage":12.6},{"year":"2006-07","date":"2017-03-01","stage":12.2},{"year":"2006-07","date":"2017-03-28","stage":11.7},{"year":"2006-07","date":"2017-04-25","stage":11.0},{"year":"2006-07","date":"2017-05-20","stage":10.4},{"year":"2006-07","date":"2017-06-15","stage":10.05},{"year":"2006-07","date":"2017-07-10","stage":10.1},{"year":"2006-07","date":"2017-07-31","stage":10.2},
    {"year":"2007-08","date":"2016-09-01","stage":14.3},{"year":"2007-08","date":"2016-09-25","stage":14.3},{"year":"2007-08","date":"2016-10-20","stage":14.1},{"year":"2007-08","date":"2016-11-15","stage":13.9},{"year":"2007-08","date":"2016-12-10","stage":13.7},{"year":"2007-08","date":"2017-01-05","stage":13.5},{"year":"2007-08","date":"2017-02-01","stage":13.3},{"year":"2007-08","date":"2017-03-01","stage":13.15},{"year":"2007-08","date":"2017-03-28","stage":12.9},{"year":"2007-08","date":"2017-04-25","stage":12.6},{"year":"2007-08","date":"2017-05-20","stage":12.15},{"year":"2007-08","date":"2017-06-15","stage":11.95},{"year":"2007-08","date":"2017-07-10","stage":12.3},{"year":"2007-08","date":"2017-07-31","stage":12.75},
    {"year":"2008-09","date":"2016-09-01","stage":14.3},{"year":"2008-09","date":"2016-09-25","stage":14.4},{"year":"2008-09","date":"2016-10-20","stage":14.6},{"year":"2008-09","date":"2016-11-15","stage":14.4},{"year":"2008-09","date":"2016-12-10","stage":14.1},{"year":"2008-09","date":"2017-01-05","stage":13.8},{"year":"2008-09","date":"2017-02-01","stage":13.5},{"year":"2008-09","date":"2017-03-01","stage":13.0},{"year":"2008-09","date":"2017-03-28","stage":12.5},{"year":"2008-09","date":"2017-04-25","stage":11.8},{"year":"2008-09","date":"2017-05-20","stage":11.0},{"year":"2008-09","date":"2017-06-01","stage":10.6},{"year":"2008-09","date":"2017-06-15","stage":11.8},{"year":"2008-09","date":"2017-07-10","stage":12.4},{"year":"2008-09","date":"2017-07-31","stage":12.7},
    {"year":"2009-10","date":"2016-09-01","stage":14.3},{"year":"2009-10","date":"2016-09-25","stage":14.4},{"year":"2009-10","date":"2016-10-20","stage":14.5},{"year":"2009-10","date":"2016-11-15","stage":14.6},{"year":"2009-10","date":"2016-12-10","stage":14.8},{"year":"2009-10","date":"2017-01-05","stage":15.0},{"year":"2009-10","date":"2017-02-01","stage":15.2},{"year":"2009-10","date":"2017-03-01","stage":15.5},{"year":"2009-10","date":"2017-03-28","stage":15.6},{"year":"2009-10","date":"2017-04-25","stage":15.3},{"year":"2009-10","date":"2017-05-20","stage":15.0},{"year":"2009-10","date":"2017-06-15","stage":14.6},{"year":"2009-10","date":"2017-07-10","stage":14.8},{"year":"2009-10","date":"2017-07-31","stage":14.9},
    {"year":"2010-11","date":"2016-09-01","stage":14.3},{"year":"2010-11","date":"2016-10-08","stage":14.1},{"year":"2010-11","date":"2016-10-28","stage":13.82},{"year":"2010-11","date":"2016-11-10","stage":13.65},{"year":"2010-11","date":"2016-12-01","stage":13.33},{"year":"2010-11","date":"2016-12-12","stage":13.06},{"year":"2010-11","date":"2017-01-01","stage":12.82},{"year":"2010-11","date":"2017-01-20","stage":12.7},{"year":"2010-11","date":"2017-02-12","stage":12.55},{"year":"2010-11","date":"2017-03-01","stage":12.39},{"year":"2010-11","date":"2017-03-17","stage":12.1},{"year":"2010-11","date":"2017-04-01","stage":11.82},{"year":"2010-11","date":"2017-04-12","stage":11.78},{"year":"2010-11","date":"2017-04-28","stage":11.29},{"year":"2010-11","date":"2017-05-08","stage":10.92},{"year":"2010-11","date":"2017-05-20","stage":10.63},{"year":"2010-11","date":"2017-06-01","stage":10.22},{"year":"2010-11","date":"2017-06-11","stage":9.94},{"year":"2010-11","date":"2017-06-23","stage":9.76},{"year":"2010-11","date":"2017-07-01","stage":9.94},{"year":"2010-11","date":"2017-07-15","stage":10.15},{"year":"2010-11","date":"2017-07-31","stage":10.33},
    {"year":"2011-12","date":"2016-09-01","stage":14.3},{"year":"2011-12","date":"2016-09-25","stage":14.2},{"year":"2011-12","date":"2016-10-20","stage":14.0},{"year":"2011-12","date":"2016-11-15","stage":13.8},{"year":"2011-12","date":"2016-12-10","stage":13.6},{"year":"2011-12","date":"2017-01-05","stage":13.3},{"year":"2011-12","date":"2017-02-01","stage":13.0},{"year":"2011-12","date":"2017-03-01","stage":12.7},{"year":"2011-12","date":"2017-03-28","stage":12.3},{"year":"2011-12","date":"2017-04-25","stage":11.9},{"year":"2011-12","date":"2017-05-20","stage":11.7},{"year":"2011-12","date":"2017-06-15","stage":12.8},{"year":"2011-12","date":"2017-07-10","stage":13.3},{"year":"2011-12","date":"2017-07-31","stage":13.6},
    {"year":"2012-13","date":"2016-09-01","stage":14.3},{"year":"2012-13","date":"2016-09-25","stage":14.7},{"year":"2012-13","date":"2016-10-20","stage":15.3},{"year":"2012-13","date":"2016-11-15","stage":15.8},{"year":"2012-13","date":"2016-12-10","stage":15.9},{"year":"2012-13","date":"2017-01-05","stage":15.8},{"year":"2012-13","date":"2017-02-01","stage":15.6},{"year":"2012-13","date":"2017-03-01","stage":15.4},{"year":"2012-13","date":"2017-03-28","stage":15.2},{"year":"2012-13","date":"2017-04-25","stage":14.9},{"year":"2012-13","date":"2017-05-20","stage":14.5},{"year":"2012-13","date":"2017-06-15","stage":14.7},{"year":"2012-13","date":"2017-07-10","stage":15.0},{"year":"2012-13","date":"2017-07-31","stage":15.3},
    {"year":"2013-14","date":"2016-09-01","stage":14.3},{"year":"2013-14","date":"2016-10-08","stage":14.12},{"year":"2013-14","date":"2016-10-28","stage":13.94},{"year":"2013-14","date":"2016-11-10","stage":13.73},{"year":"2013-14","date":"2016-12-01","stage":13.51},{"year":"2013-14","date":"2016-12-20","stage":13.33},{"year":"2013-14","date":"2017-01-01","stage":13.2},{"year":"2013-14","date":"2017-01-20","stage":12.71},{"year":"2013-14","date":"2017-02-12","stage":12.61},{"year":"2013-14","date":"2017-03-05","stage":12.43},{"year":"2013-14","date":"2017-03-17","stage":12.22},{"year":"2013-14","date":"2017-03-31","stage":11.86},{"year":"2013-14","date":"2017-04-14","stage":11.45},{"year":"2013-14","date":"2017-04-28","stage":10.96},{"year":"2013-14","date":"2017-05-08","stage":10.47},{"year":"2013-14","date":"2017-05-14","stage":10.16},{"year":"2013-14","date":"2017-05-25","stage":9.9},{"year":"2013-14","date":"2017-06-05","stage":9.78},{"year":"2013-14","date":"2017-06-15","stage":9.62},{"year":"2013-14","date":"2017-06-22","stage":9.5},{"year":"2013-14","date":"2017-07-02","stage":9.37},{"year":"2013-14","date":"2017-07-13","stage":9.25},{"year":"2013-14","date":"2017-07-31","stage":9.16},
    {"year":"2014-15","date":"2016-09-01","stage":14.3},{"year":"2014-15","date":"2016-09-25","stage":14.4},{"year":"2014-15","date":"2016-10-20","stage":14.6},{"year":"2014-15","date":"2016-11-15","stage":14.7},{"year":"2014-15","date":"2016-12-10","stage":14.6},{"year":"2014-15","date":"2017-01-05","stage":14.5},{"year":"2014-15","date":"2017-02-01","stage":14.3},{"year":"2014-15","date":"2017-03-01","stage":14.2},{"year":"2014-15","date":"2017-03-28","stage":14.0},{"year":"2014-15","date":"2017-04-25","stage":13.6},{"year":"2014-15","date":"2017-05-20","stage":13.1},{"year":"2014-15","date":"2017-06-15","stage":13.4},{"year":"2014-15","date":"2017-07-10","stage":13.6},{"year":"2014-15","date":"2017-07-31","stage":13.8},
    {"year":"2015-16","date":"2016-09-01","stage":14.3},{"year":"2015-16","date":"2016-09-25","stage":14.5},{"year":"2015-16","date":"2016-10-20","stage":14.9},{"year":"2015-16","date":"2016-11-15","stage":15.3},{"year":"2015-16","date":"2016-12-10","stage":15.6},{"year":"2015-16","date":"2017-01-05","stage":16.0},{"year":"2015-16","date":"2017-02-01","stage":16.6},{"year":"2015-16","date":"2017-03-01","stage":16.8},{"year":"2015-16","date":"2017-03-28","stage":16.5},{"year":"2015-16","date":"2017-04-25","stage":16.3},{"year":"2015-16","date":"2017-05-20","stage":16.2},{"year":"2015-16","date":"2017-06-15","stage":16.3},{"year":"2015-16","date":"2017-07-10","stage":16.35},{"year":"2015-16","date":"2017-07-31","stage":16.4}
  ]
},
"layer": [
  {
    "data": {"name": "curves"},
    "transform": [{"filter": "datum.curve === 'upper'"}],
    "mark": {"type": "area", "color": "#a6e8e4", "opacity": 1},
    "encoding": {
      "x": {"field": "date", "type": "temporal", "scale": {"type": "utc", "domain": [{"year":2016,"month":6,"date":1,"utc":true},{"year":2017,"month":7,"date":31,"utc":true}]},
        "axis": {"orient": "bottom", "values": [{"year":2016,"month":6,"date":1,"utc":true},{"year":2016,"month":7,"date":1,"utc":true},{"year":2016,"month":8,"date":1,"utc":true},{"year":2016,"month":9,"date":1,"utc":true},{"year":2016,"month":10,"date":1,"utc":true},{"year":2016,"month":11,"date":1,"utc":true},{"year":2016,"month":12,"date":1,"utc":true},{"year":2017,"month":1,"date":1,"utc":true},{"year":2017,"month":2,"date":1,"utc":true},{"year":2017,"month":3,"date":1,"utc":true},{"year":2017,"month":4,"date":1,"utc":true},{"year":2017,"month":5,"date":1,"utc":true},{"year":2017,"month":6,"date":1,"utc":true},{"year":2017,"month":7,"date":1,"utc":true}],
          "labelExpr": "utcFormat(datum.value, '%b')", "labelAngle": -45, "labelAlign": "center", "labelBaseline": "middle", "labelPadding": 53, "tickSize": -12, "labelOverlap": false, "labelFlush": false, "labelBound": false, "title": null, "zindex": 1}},
      "y": {"field": "stage", "type": "quantitative", "scale": {"domain": [8, 20], "nice": false, "zero": false},
        "axis": {"orient": "left", "values": [8,9,10,11,12,13,14,15,16,17,18,19,20], "format": ".2f", "labelPadding": 25, "tickSize": -12, "labelOverlap": false, "labelFlush": false, "title": "Stage (feet, NGVD)", "titlePadding": 2, "zindex": 1}},
      "y2": {"datum": 8}
    }
  },
  {
    "data": {"name": "curves"},
    "transform": [{"filter": "datum.curve === 'lower'"}],
    "mark": {"type": "area", "color": "#fdeedf", "opacity": 1},
    "encoding": {
      "x": {"field": "date", "type": "temporal", "scale": {"type": "utc"},
        "axis": {"orient": "top", "values": [{"year":2016,"month":6,"date":1,"utc":true},{"year":2016,"month":7,"date":1,"utc":true},{"year":2016,"month":8,"date":1,"utc":true},{"year":2016,"month":9,"date":1,"utc":true},{"year":2016,"month":10,"date":1,"utc":true},{"year":2016,"month":11,"date":1,"utc":true},{"year":2016,"month":12,"date":1,"utc":true},{"year":2017,"month":1,"date":1,"utc":true},{"year":2017,"month":2,"date":1,"utc":true},{"year":2017,"month":3,"date":1,"utc":true},{"year":2017,"month":4,"date":1,"utc":true},{"year":2017,"month":5,"date":1,"utc":true},{"year":2017,"month":6,"date":1,"utc":true},{"year":2017,"month":7,"date":1,"utc":true}],
          "labels": false, "tickSize": -12, "title": null, "zindex": 1}},
      "y": {"field": "stage", "type": "quantitative", "scale": {"domain": [8, 20], "nice": false, "zero": false},
        "axis": {"orient": "right", "values": [8,9,10,11,12,13,14,15,16,17,18,19,20], "labelExpr": "format(datum.value - 1.25, '.2f')", "labelPadding": 25, "tickSize": -12, "labelOverlap": false, "labelFlush": false, "title": "Stage (feet, NAVD)", "titleAngle": -90, "titleBaseline": "top", "titlePadding": 0, "zindex": 1}},
      "y2": {"datum": 8}
    }
  },
  {
    "data": {"name": "curves"},
    "transform": [{"filter": "datum.curve === 'lowsm'"}],
    "mark": {"type": "area", "color": "#d3d3d3", "opacity": 1},
    "encoding": {
      "x": {"field": "date", "type": "temporal", "scale": {"type": "utc"}, "axis": null},
      "y": {"field": "stage", "type": "quantitative", "scale": {"domain": [8, 20], "nice": false, "zero": false},
        "axis": {"orient": "left", "values": [8.5,9.5,10.5,11.5,12.5,13.5,14.5,15.5,16.5,17.5,18.5,19.5], "labels": false, "domain": false, "tickSize": -6, "title": null, "zindex": 1}},
      "y2": {"datum": 8}
    }
  },
  {
    "data": {"values": [{"date":"2016-07-01"},{"date":"2016-08-01"},{"date":"2016-09-01"},{"date":"2016-10-01"},{"date":"2016-11-01"},{"date":"2016-12-01"},{"date":"2017-01-01"},{"date":"2017-02-01"},{"date":"2017-03-01"},{"date":"2017-04-01"},{"date":"2017-05-01"},{"date":"2017-06-01"},{"date":"2017-07-01"}]},
    "mark": {"type": "rule", "color": "black", "strokeWidth": 1.2, "strokeDash": [2, 6.3]},
    "encoding": {"x": {"field": "date", "type": "temporal", "scale": {"type": "utc"}, "axis": null}}
  },
  {
    "data": {"values": [{"stage":9},{"stage":10},{"stage":11},{"stage":12},{"stage":13},{"stage":14},{"stage":15},{"stage":16},{"stage":17},{"stage":18},{"stage":19}]},
    "mark": {"type": "rule", "color": "black", "strokeWidth": 1.2, "strokeDash": [2, 6.3]},
    "encoding": {"y": {"field": "stage", "type": "quantitative", "scale": {"domain": [8, 20], "nice": false, "zero": false}, "axis": null}}
  },
  {
    "data": {"name": "curves"},
    "mark": {"type": "line", "color": "black", "strokeWidth": 3},
    "encoding": {
      "x": {"field": "date", "type": "temporal", "scale": {"type": "utc"}, "axis": null},
      "y": {"field": "stage", "type": "quantitative", "scale": {"domain": [8, 20], "nice": false, "zero": false}, "axis": null},
      "detail": {"field": "curve"}
    }
  },
  {
    "data": {"name": "series"},
    "transform": [{"filter": "datum.year >= '1998-99'"}],
    "mark": {"type": "line", "color": "black", "strokeWidth": 5, "strokeDash": [0.1, 9.5], "strokeCap": "round"},
    "encoding": {
      "x": {"field": "date", "type": "temporal", "scale": {"type": "utc"}, "axis": null},
      "y": {"field": "stage", "type": "quantitative", "scale": {"domain": [8, 20], "nice": false, "zero": false}, "axis": null},
      "detail": {"field": "year"}
    }
  },
  {
    "data": {"name": "series"},
    "mark": {"type": "line", "strokeWidth": 2.5},
    "encoding": {
      "x": {"field": "date", "type": "temporal", "scale": {"type": "utc"}, "axis": null},
      "y": {"field": "stage", "type": "quantitative", "scale": {"domain": [8, 20], "nice": false, "zero": false}, "axis": null},
      "color": {"field": "year", "type": "nominal",
        "scale": {"domain": ["1967-68","1968-69","1969-70","1970-71","1971-72","1972-73","1973-74","1974-75","1975-76","1976-77","1977-78","1978-79","1979-80","1980-81","1981-82","1982-83","1983-84","1984-85","1985-86","1986-87","1987-88","1988-89","1989-90","1990-91","1991-92","1992-93","1993-94","1994-95","1995-96","1996-97","1997-98","1998-99","1999-00","2000-01","2001-02","2002-03","2003-04","2004-05","2005-06","2006-07","2007-08","2008-09","2009-10","2010-11","2011-12","2012-13","2013-14","2014-15","2015-16"],
          "range": ["#000000","#ffc0cb","#ffc0cb","#ffc0cb","#0000ff","#0000ff","#0000ff","#ff0000","#ff0000","#ff0000","#00bfbf","#00bfbf","#00bfbf","#bf00bf","#bf00bf","#bf00bf","#32cd32","#32cd32","#32cd32","#ffa500","#ffa500","#ffa500","#a52a2a","#a52a2a","#a52a2a","#800080","#800080","#800080","#808000","#808000","#808000","#000000","#000000","#000000","#ffc0cb","#ffc0cb","#ffc0cb","#0000ff","#0000ff","#0000ff","#ff0000","#ff0000","#ff0000","#00bfbf","#00bfbf","#00bfbf","#bf00bf","#bf00bf","#bf00bf"]},
        "legend": {"title": null, "orient": "none", "legendX": 1665, "legendY": -27.5, "symbolType": "stroke", "symbolSize": 1764, "symbolStrokeWidth": 3, "labelFontSize": 16, "labelFont": "DejaVu Sans", "labelColor": "black", "clipHeight": 21, "rowPadding": 2.5, "labelOffset": 13, "symbolLimit": 100, "columns": 1, "padding": 0}},
      "strokeDash": {"field": "year", "type": "nominal",
        "scale": {"domain": ["1967-68","1968-69","1969-70","1970-71","1971-72","1972-73","1973-74","1974-75","1975-76","1976-77","1977-78","1978-79","1979-80","1980-81","1981-82","1982-83","1983-84","1984-85","1985-86","1986-87","1987-88","1988-89","1989-90","1990-91","1991-92","1992-93","1993-94","1994-95","1995-96","1996-97","1997-98","1998-99","1999-00","2000-01","2001-02","2002-03","2003-04","2004-05","2005-06","2006-07","2007-08","2008-09","2009-10","2010-11","2011-12","2012-13","2013-14","2014-15","2015-16"],
          "range": [[2.5,7.5],[1,0],[15,15],[2.5,7.5],[1,0],[15,15],[2.5,7.5],[1,0],[15,15],[2.5,7.5],[1,0],[15,15],[2.5,7.5],[1,0],[15,15],[2.5,7.5],[1,0],[15,15],[2.5,7.5],[1,0],[15,15],[2.5,7.5],[1,0],[15,15],[2.5,7.5],[1,0],[15,15],[2.5,7.5],[1,0],[15,15],[2.5,7.5],[1,0],[15,15],[2.5,7.5],[1,0],[15,15],[2.5,7.5],[1,0],[15,15],[2.5,7.5],[1,0],[15,15],[2.5,7.5],[1,0],[15,15],[2.5,7.5],[1,0],[15,15],[2.5,7.5]]},
        "legend": {"title": null, "orient": "none", "legendX": 1665, "legendY": -27.5, "symbolType": "stroke", "symbolSize": 1764, "symbolStrokeWidth": 3, "labelFontSize": 16, "labelFont": "DejaVu Sans", "labelColor": "black", "clipHeight": 21, "rowPadding": 2.5, "labelOffset": 13, "symbolLimit": 100, "columns": 1, "padding": 0}}
    }
  },
  {
    "data": {"name": "current"},
    "mark": {"type": "line", "color": "#ff00ff", "strokeWidth": 10, "strokeCap": "round", "strokeJoin": "round"},
    "encoding": {
      "x": {"field": "date", "type": "temporal", "scale": {"type": "utc"}, "axis": null},
      "y": {"field": "stage", "type": "quantitative", "scale": {"domain": [8, 20], "nice": false, "zero": false}, "axis": null}
    }
  },
  {
    "data": {"values": [{"label": "Water Shortage Management Band", "date": "2016-07-07", "stage": 9.0}]},
    "mark": {"type": "text", "align": "left", "baseline": "middle", "fontSize": 32, "font": "DejaVu Sans", "color": "black"},
    "encoding": {
      "x": {"field": "date", "type": "temporal", "scale": {"type": "utc"}, "axis": null},
      "y": {"field": "stage", "type": "quantitative", "scale": {"domain": [8, 20], "nice": false, "zero": false}, "axis": null},
      "text": {"field": "label"}
    }
  },
  {
    "data": {"name": "boxes"},
    "mark": {"type": "rect", "stroke": "black", "strokeWidth": 1.5, "opacity": 1},
    "encoding": {
      "x": {"field": "start", "type": "temporal", "scale": {"type": "utc"}, "axis": null},
      "x2": {"field": "end"},
      "y": {"field": "top", "type": "quantitative", "scale": {"domain": [8, 20], "nice": false, "zero": false}, "axis": null},
      "y2": {"field": "bottom"},
      "fill": {"field": "zone", "type": "nominal", "scale": {"domain": ["Zone-A","Zone-B/C","Zone-D","LOWSM"], "range": ["#d8e2ee","#a6e8e4","#fdeedf","#e6e6e6"]}, "legend": null}
    }
  },
  {
    "data": {"name": "boxes"},
    "mark": {"type": "text", "align": "left", "baseline": "middle", "fontSize": 32, "font": "DejaVu Sans", "color": "black"},
    "encoding": {
      "x": {"field": "labelDate", "type": "temporal", "scale": {"type": "utc"}, "axis": null},
      "y": {"field": "labelStage", "type": "quantitative", "scale": {"domain": [8, 20], "nice": false, "zero": false}, "axis": null},
      "text": {"field": "zone"}
    }
  }
]
}
